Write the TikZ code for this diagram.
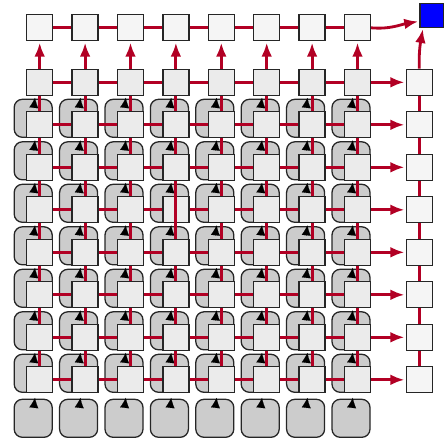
\documentclass[tikz,border=0pt]{standalone}
\usepackage{xcolor}
\usepackage{tikz}
\usetikzlibrary{arrows.meta}
\definecolor{cellgray}{RGB}{235,235,235}
\definecolor{outgray}{RGB}{245,245,245}
\definecolor{bufgray}{RGB}{204,204,204}
\definecolor{linkred}{RGB}{178,0,36}
\definecolor{resblue}{RGB}{0,0,255}
\tikzset{
  pecell/.style={
    rectangle,
    draw=black!85,
    line width=1.1pt,
    fill=cellgray,
    minimum size=0.78cm,
    inner sep=0pt
  },
  outcell/.style={
    pecell,
    fill=outgray
  },
  bufcell/.style={
    rectangle,
    rounded corners=7pt,
    draw=black!85,
    line width=1.1pt,
    fill=bufgray,
    minimum size=1.14cm,
    inner sep=0pt
  },
  rescell/.style={
    pecell,
    fill=resblue,
    minimum size=0.7cm
  },
  link/.style={
    draw=linkred,
    line width=2.4pt
  },
  linkarrow/.style={
    link,
    -{Latex[length=0.42cm,width=0.32cm]},
    shorten >=1pt
  },
  feedtip/.style={
    -{Latex[length=0.3cm,width=0.27cm]},
    line width=0.1pt,
    draw=black
  }
}

\begin{document}
\begin{tikzpicture}[x=0.03cm,y=0.03cm]
\useasboundingbox (0,0) rectangle (444,-441);

% rounded buffers behind the grid
\foreach \i in {1,...,8} {
  \foreach \j in {2,...,9} {
    \pgfmathsetmacro{\bx}{39.7+45.4*(\i-1)-6.5}
    \pgfmathsetmacro{\by}{-(82.3+42.5*(\j-1)-6.5+(\j==9)*2.5)}
    \node[bufcell] (buf-\i-\j) at (\bx,\by) {};
    \draw[feedtip] ([shift={(0.6,-9.5)}]buf-\i-\j.north) -- ([shift={(1.8,0.8)}]buf-\i-\j.north);
  }
}

% cells
\foreach \i in {1,...,8} {
  \pgfmathsetmacro{\px}{39.7+45.4*(\i-1)}
  \node[outcell] (out-\i) at (\px,-27.8) {};
  \foreach \j in {1,...,8} {
    \pgfmathsetmacro{\py}{-(82.3+42.5*(\j-1))}
    \node[pecell] (pe-\i-\j) at (\px,\py) {};
  }
}
\foreach \j in {1,...,8} {
  \pgfmathsetmacro{\py}{-(82.3+42.5*(\j-1))}
  \node[outcell] (acc-\j) at (419.3,\py) {};
}
\node[rescell] (res) at (431.7,-15.5) {};

% horizontal links
\foreach \i in {1,...,7} {
  \pgfmathtruncatemacro{\n}{\i+1}
  \draw[link] (out-\i) -- (out-\n);
  \foreach \j in {1,...,8}
    \draw[link] (pe-\i-\j) -- (pe-\n-\j);
}
% vertical links
\foreach \j in {1,...,7} {
  \pgfmathtruncatemacro{\n}{\j+1}
  \foreach \i in {1,...,8}
    \draw[link] (pe-\i-\j) -- (pe-\i-\n);
  \draw[link] (acc-\j) -- (acc-\n);
}
\draw[link] (pe-4-3) -- (pe-4-5);

% arrows out of the grid
\foreach \i in {1,...,8}
  \draw[linkarrow] (pe-\i-1) -- (out-\i);
\foreach \j in {1,...,8}
  \draw[linkarrow] (pe-8-\j) -- (acc-\j);
\draw[linkarrow] (out-8.east) to[out=-5,in=190] (res.205);
\draw[linkarrow] (acc-1.north) to[out=92,in=-100] (res.235);
\end{tikzpicture}
\end{document}
